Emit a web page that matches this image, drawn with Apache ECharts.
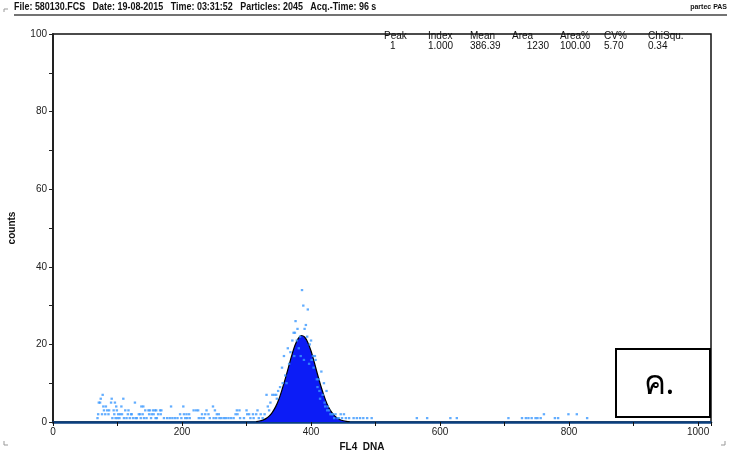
<!DOCTYPE html>
<html>
<head>
<meta charset="utf-8">
<script src="https://cdn.jsdelivr.net/npm/echarts@6/dist/echarts.min.js"></script>
<style>
  html, body { margin: 0; padding: 0; background: #fff; }
  #chart { width: 729px; height: 450px; }
</style>
</head>
<body>
<div id="chart"></div>
<script>
// Histogram channels with counts, drawn as single dots: [channel, count]
const lowTail = [
  [69,1],[70,2],[71,5],[73,5],[74,6],[76,2],[77,7],[78,4],[79,3],[81,2],[82,4],[84,3],[86,2],[87,3],
  [90,5],[91,6],[92,1],[94,3],[95,2],[96,5],[97,1],[98,4],[99,3],[100,1],[101,2],[103,1],[104,2],
  [106,4],[107,2],[109,6],[110,1],[112,3],[114,1],[116,2],[117,3],[119,1],[121,2],[122,2],[124,1],
  [127,5],[128,1],[130,1],[133,2],[135,2],[136,1],[137,4],[139,2],[140,4],[141,1],[143,3],[145,1],
  [148,3],[149,2],[150,3],[152,1],[153,2],[155,3],[156,2],[158,3],[159,1],[160,3],[161,1],[163,2],
  [166,3],[167,2],[168,3],[172,1],[177,1],[181,1],[183,4],[185,1],[189,1],[193,1],[197,2],[199,1],
  [202,4],[203,2],[205,1],[207,2],[208,1],[211,2],[212,1],[218,3],[222,3],[225,3],[226,1],[230,1],
  [231,2],[234,1],[236,2],[238,3],[241,2],[243,1],[248,4],[249,1],[251,3],[253,1],[254,2],[257,2],
  [258,1],[261,1],[265,1],[268,1],[272,1],[276,1],[280,1],[283,2],[285,3],[286,2],[289,3],[290,1],
  [296,1],[300,3],[301,2],[304,2],[306,1],[310,2],[311,1],[315,2],[317,3],[319,1],[322,2],[325,1],
  [328,2],[331,7],[333,4],[335,3],[337,5],[340,7],[343,7],[346,7],[347,6]
];
const peakDots = [
  [349,8],[352,9],[355,14],[356,10],[358,17],[360,12],[362,10],[364,19],[366,15],[368,18],[371,21],
  [373,23],[374,17],[375,23],[376,26],[378,21],[379,24],[381,19],[383,22],[384,17],[386,34],[388,30],
  [389,16],[390,24],[392,25],[394,22],[395,29],[397,15],[398,20],[400,21],[401,16],[403,17],[404,14],
  [406,17],[407,16],[409,11],[410,9],[412,11],[413,8],[414,6],[416,13],[418,7],[420,10],[421,5],
  [422,4],[424,8],[425,3],[426,4],[428,3],[430,2],[432,2],[434,2],[436,1],[438,2],[441,1],[443,1],
  [446,2],[448,1],[451,2],[454,1],[459,1],[466,1],[471,1]
];
const highTail = [
  [476,1],[481,1],[487,1],[494,1],[564,1],[580,1],[616,1],[626,1],[706,1],[727,1],[733,1],[737,1],
  [742,1],[748,1],[751,1],[756,1],[761,2],[778,1],[783,1],[799,2],[812,2],[828,1]
];

// Fitted peak curve
const fitChannels = [315,320,325,330,335,340,345,350,355,360,365,370,375,380,385,390,395,400,405,410,415,420,425,430,435,440,445,450,455,460];
const fitCounts   = [0.1,0.25,0.48,0.87,1.5,2.5,3.9,5.8,8.3,11.1,14.1,17.1,19.7,21.5,22.3,21.9,20.5,18.3,15.4,12.3,9.4,6.8,4.6,3.0,1.9,1.1,0.6,0.32,0.15,0.06];

// Peak statistics table
const statHeaders = ['Peak', 'Index', 'Mean', 'Area', 'Area%', 'CV%', 'ChiSqu.'];
const statValues  = ['1', '1.000', '386.39', '1230', '100.00', '5.70', '0.34'];

const xTickLabels = [0, 200, 400, 600, 800, 1000];
const yTickLabels = [0, 20, 40, 60, 80, 100];

const titleText = 'File: 580130.FCS   Date: 19-08-2015   Time: 03:31:52   Particles: 2045   Acq.-Time: 96 s';

const FONT = '"Liberation Sans", Arial, sans-serif';

const chart = echarts.init(document.getElementById('chart'), null, { renderer: 'canvas' });

const statX = [384, 428, 470, 512, 560, 604, 648];
const tableGraphics = [];
statHeaders.forEach((h, i) => {
  tableGraphics.push({ type: 'text', x: statX[i], y: 31, style: { text: h, font: '10px ' + FONT, fill: '#111' } });
});
statValues.forEach((v, i) => {
  const isArea = i === 3;
  const isPeak = i === 0;
  tableGraphics.push({
    type: 'text',
    x: isArea ? 549 : (isPeak ? statX[i] + 6 : statX[i]),
    y: 41,
    style: { text: v, font: '10px ' + FONT, fill: '#111', align: isArea ? 'right' : 'left' }
  });
});

const fitLine = fitChannels.map((c, i) => [c, fitCounts[i]]);

chart.setOption({
  animation: false,
  backgroundColor: '#fff',
  grid: {
    left: 53, right: 18, top: 34, bottom: 28,
    outerBoundsMode: 'none', containLabel: false,
    show: true, borderColor: '#111', borderWidth: 1.5, backgroundColor: 'transparent'
  },
  xAxis: {
    type: 'value', min: 0, max: 1020, interval: 100,
    name: 'FL4  DNA', nameLocation: 'middle', nameGap: 17,
    nameTextStyle: { fontFamily: FONT, fontWeight: 'bold', fontSize: 10, color: '#111', padding: [0, 40, 0, 0] },
    axisLine: { lineStyle: { color: '#0a3f7f', width: 2.5 } },
    axisTick: { length: 4, lineStyle: { color: '#111', width: 1 } },
    axisLabel: {
      fontFamily: FONT, fontSize: 10, color: '#222', margin: 5,
      formatter: v => xTickLabels.includes(v) ? String(v) : ''
    },
    splitLine: { show: false }
  },
  yAxis: {
    type: 'value', min: 0, max: 100, interval: 10,
    name: 'counts', nameLocation: 'middle', nameGap: 36, nameRotate: 90,
    nameTextStyle: { fontFamily: FONT, fontWeight: 'bold', fontSize: 10, color: '#111' },
    axisLine: { show: true, lineStyle: { color: '#222', width: 2 } },
    axisTick: { show: true, length: 4, lineStyle: { color: '#222', width: 1 } },
    axisLabel: {
      fontFamily: FONT, fontSize: 10, color: '#222', margin: 6,
      formatter: v => yTickLabels.includes(v) ? String(v) : ''
    },
    splitLine: { show: false }
  },
  series: [
    {
      type: 'line', data: fitLine, smooth: 0.3, showSymbol: false, z: 2,
      lineStyle: { color: '#000', width: 1.2 },
      areaStyle: { color: '#0c1cf6', opacity: 1 }
    },
    {
      type: 'scatter', data: lowTail.concat(peakDots, highTail), symbol: 'rect', symbolSize: [2.4, 2.2], z: 3,
      itemStyle: { color: '#3b98ff' }
    }
  ],
  graphic: [
    { type: 'text', x: 14, y: 1, scaleX: 0.8, style: { text: titleText, font: 'bold 11.2px ' + FONT, fill: '#111' } },
    { type: 'text', right: 2, top: 4, style: { text: 'partec PAS', font: 'bold 7px ' + FONT, fill: '#111' } },
    { type: 'line', shape: { x1: 14, y1: 15, x2: 727, y2: 15 }, style: { stroke: '#444', lineWidth: 1.5 } },
    { type: 'polyline', shape: { points: [[4, 12], [4, 9], [8, 9]] }, style: { stroke: '#999', lineWidth: 1, fill: null } },
    { type: 'polyline', shape: { points: [[4, 441], [4, 445], [8, 445]] }, style: { stroke: '#999', lineWidth: 1, fill: null } },
    { type: 'polyline', shape: { points: [[721, 445], [725, 445], [725, 441]] }, style: { stroke: '#999', lineWidth: 1, fill: null } },
    { type: 'rect', shape: { x: 616, y: 349, width: 94, height: 68 }, style: { fill: '#fff', stroke: '#000', lineWidth: 2 }, z: 10 },
    { type: 'text', x: 659, y: 385, style: { text: 'ค.', font: '33px "Noto Sans", "DejaVu Sans", sans-serif', fill: '#000', align: 'center', verticalAlign: 'middle' }, z: 11 }
  ].concat(tableGraphics)
});
</script>
</body>
</html>
